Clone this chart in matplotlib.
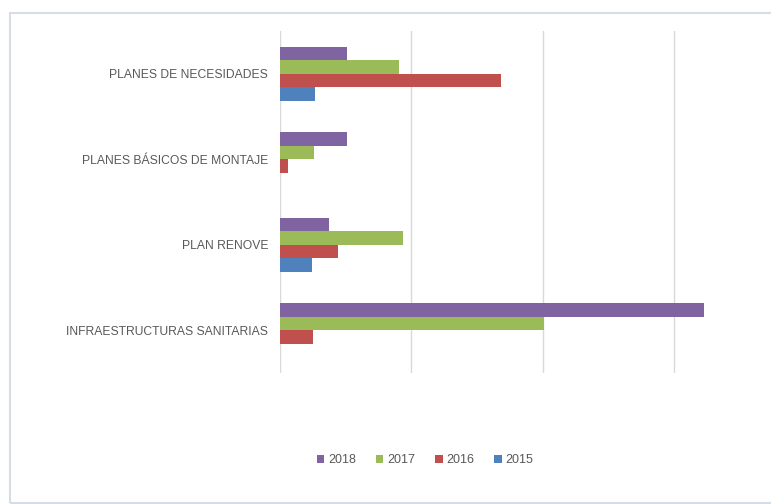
import matplotlib.pyplot as plt
from matplotlib.patches import Rectangle
import numpy as np

# Datos (unidad = una division de la rejilla)
categorias = ["PLANES DE NECESIDADES", "PLANES BÁSICOS DE MONTAJE",
              "PLAN RENOVE", "INFRAESTRUCTURAS SANITARIAS"]
anios = ["2018", "2017", "2016", "2015"]
v2018 = [0.51, 0.51, 0.37, 3.23]
v2017 = [0.91, 0.26, 0.94, 2.01]
v2016 = [1.68, 0.06, 0.44, 0.25]
v2015 = [0.27, 0.0, 0.24, 0.0]
colores = ["#8064A2", "#9BBB59", "#C0504D", "#4F81BD"]

fig = plt.figure(figsize=(7.71, 5.04), dpi=100)
plt.rcParams['font.family'] = ['Liberation Sans', 'DejaVu Sans']

# marco del grafico
fig.patches.append(Rectangle((10 / 771, 1 / 504), 1.0, 490 / 504,
                             transform=fig.transFigure, fill=False,
                             edgecolor="#d6dde6", linewidth=1.5))

ax = fig.add_axes([280 / 771, 1 - 372.7 / 504, 491 / 771, 341.4 / 504])

y = np.arange(len(categorias))
h = 0.158
series = [v2018, v2017, v2016, v2015]
for j, (vals, anio, col) in enumerate(zip(series, anios, colores)):
    ax.barh(y + (j - 1.5) * h, vals, height=h, color=col, label=anio, zorder=3)

ax.set_xlim(0, 491 / 131.3)
ax.set_ylim(3.5, -0.5)
ax.set_xticks([0, 1, 2, 3])
ax.set_xticklabels([])
ax.grid(axis="x", color="#d9d9d9", linewidth=1.0, zorder=0)
ax.set_yticks(y)
ax.set_yticklabels(categorias, fontsize=8.7, color="#595959")
ax.tick_params(axis="both", length=0, pad=8.6)
for s in ax.spines.values():
    s.set_visible(False)

handles, labels = ax.get_legend_handles_labels()
fig.legend(handles, labels, loc="center", ncol=4,
           bbox_to_anchor=(425 / 771, 1 - 460 / 504), frameon=False,
           fontsize=9, labelcolor="#595959", handlelength=0.6,
           handleheight=0.6, handletextpad=0.3, columnspacing=1.6)

fig.savefig("out.png", dpi=100)
